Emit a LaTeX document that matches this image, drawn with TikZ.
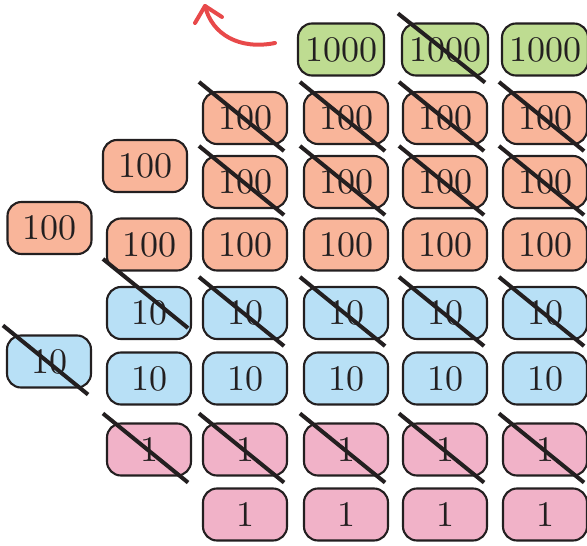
\documentclass[tikz,border=0pt]{standalone}
\usepackage{fontspec}
\newfontfamily\tilefont{lmroman10-regular.otf}
\definecolor{ink}{HTML}{231F20}
\definecolor{cgreen}{HTML}{BEDC91}
\definecolor{csalmon}{HTML}{F9B59A}
\definecolor{cblue}{HTML}{B8E0F6}
\definecolor{cpink}{HTML}{F1B2C8}
\definecolor{cred}{HTML}{E8494A}
\tikzset{
  tile/.style={draw=ink, line width=2.1pt, rounded corners=14pt, minimum width=84pt,
    minimum height=52pt, inner sep=0pt, text=ink, font=\tilefont\fontsize{36}{36}\selectfont},
  thou/.style={tile, fill=cgreen, minimum width=86pt},
  hund/.style={tile, fill=csalmon},
  tens/.style={tile, fill=cblue},
  ones/.style={tile, fill=cpink},
  crossln/.style={draw=ink, line width=4pt},
  redarrow/.style={draw=cred, line width=4pt, line cap=round, line join=round}
}
\newcommand{\crs}[2][0pt]{\draw[crossln] ([xshift=-3pt,yshift=9pt+#1]#2.north west) -- ([xshift=-4pt,yshift=-6pt+#1]#2.south east);}
\begin{document}
\begin{tikzpicture}[x=1pt,y=-1pt]
\useasboundingbox (0,0) rectangle (587,546);
% thousands
\node[thou] (t1) at (341,49.5) {1000};
\node[thou] (t2) at (445,49.5) {1000};
\node[thou] (t3) at (545,49.5) {1000};
% hundreds
\foreach \x/\n in {245/c,346/d,445/e,545/f}{
  \node[hund] (ha\n) at (\x,118) {100};
  \node[hund] (hb\n) at (\x,182) {100};
}
\node[hund] (hlone) at (145,166) {100};
\node[hund] (hA) at (49.5,228) {100};
\foreach \x/\n in {149/b,245/c,346/d,445/e,545/f}{
  \node[hund] (hc\n) at (\x,244.5) {100};
  \node[tens] (ta\n) at (\x,313) {10};
  \node[tens] (tb\n) at (\x,378.5) {10};
  \node[ones] (oa\n) at (\x,449.5) {1};
}
\node[tens] (tA) at (49,361.5) {10};
\foreach \x/\n in {245/c,346/d,445/e,545/f}{
  \node[ones] (ob\n) at (\x,514.5) {1};
}
% crossings
\crs{t2}
\foreach \n in {c,d,e,f}{\crs{ha\n}\crs{hb\n}}
\crs[18pt]{tab}
\foreach \n in {c,d,e,f}{\crs{ta\n}}
\crs{tA}
\foreach \n in {b,c,d,e,f}{\crs{oa\n}}
% red arrow
\coordinate (atail) at (275,43);
\coordinate (atip) at (205,6);
\coordinate (aleft) at (195,23);
\coordinate (aright) at (222,17);
\draw[redarrow] (atail) .. controls (240,50) and (212,35) .. (atip);
\draw[redarrow] (aleft) -- (atip) -- (aright);
\end{tikzpicture}
\end{document}
